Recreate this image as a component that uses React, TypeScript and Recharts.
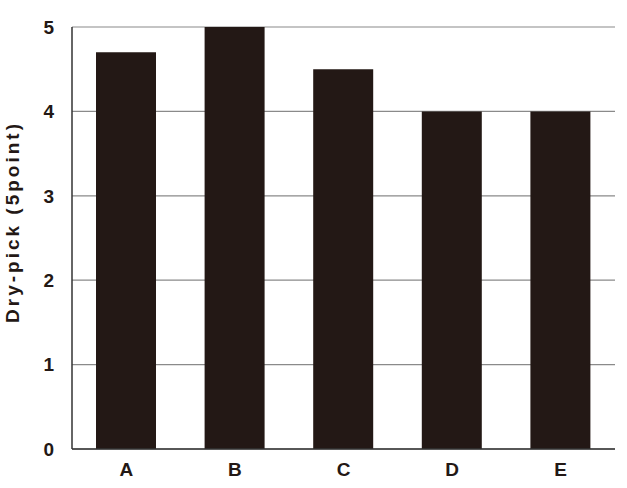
import React from 'react';
import { BarChart, Bar, XAxis, YAxis, CartesianGrid } from 'recharts';

const CATEGORIES = ['A', 'B', 'C', 'D', 'E'];
const DRY_PICK = [4.7, 5, 4.5, 4, 4];
const Y_TICKS = [0, 1, 2, 3, 4, 5];

const data = CATEGORIES.map((name, i) => ({ name, value: DRY_PICK[i] }));

const font = '"Liberation Sans", Arial, sans-serif';
const tickStyle = { fontSize: 19, fontWeight: 700, fill: '#231815', fontFamily: font };

const App: React.FC = () => {
  return (
    <div style={{ position: 'absolute', left: 0, top: 0, width: 627, height: 488, background: '#fff' }}>
      <BarChart width={627} height={488} data={data} margin={{ top: 27, right: 12, bottom: 0, left: 0 }}>
        <CartesianGrid vertical={false} stroke="#8a8a8a" strokeWidth={1.2} />
        <XAxis
          dataKey="name"
          height={39}
          tickLine={false}
          tickSize={0}
          tickMargin={14}
          axisLine={{ stroke: '#333', strokeWidth: 1.5 }}
          tick={tickStyle}
        />
        <XAxis
          xAxisId="top"
          dataKey="name"
          orientation="top"
          height={0}
          tick={false}
          tickLine={false}
          axisLine={{ stroke: '#333', strokeWidth: 1.5 }}
        />
        <YAxis
          width={72}
          domain={[0, 5]}
          ticks={Y_TICKS}
          tickLine={false}
          tickSize={0}
          tickMargin={18}
          axisLine={{ stroke: '#333', strokeWidth: 1.5 }}
          tick={tickStyle}
          label={{
            value: 'Dry-pick (5point)',
            angle: -90,
            position: 'insideLeft',
            dx: 7,
            dy: -16,
            style: { fontSize: 19, fontWeight: 700, fill: '#231815', fontFamily: font, letterSpacing: 3, textAnchor: 'middle' },
          }}
        />
        <YAxis
          yAxisId="right"
          orientation="right"
          width={0}
          domain={[0, 5]}
          tick={false}
          tickLine={false}
          axisLine={{ stroke: '#333', strokeWidth: 1.5 }}
        />
        <Bar dataKey="value" fill="#231815" barSize={60} isAnimationActive={false} />
      </BarChart>
    </div>
  );
};

export default App;
